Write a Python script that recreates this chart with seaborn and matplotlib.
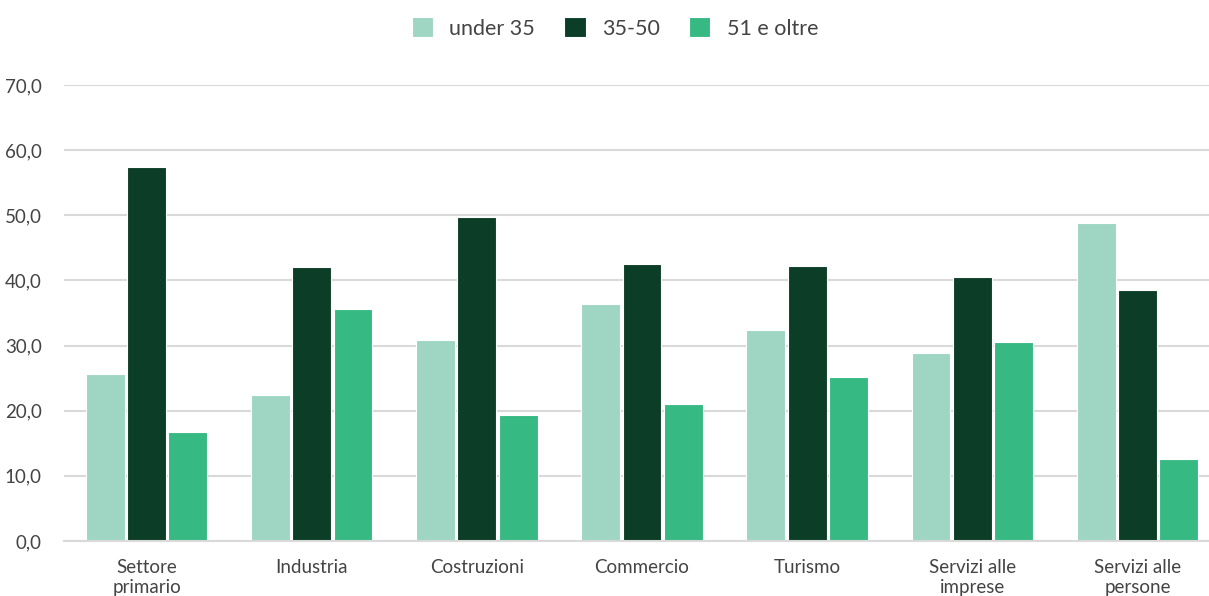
import pandas as pd
import numpy as np
import seaborn as sns
import matplotlib.pyplot as plt

# settori e fasce d'eta
settori = ['Settore\nprimario', 'Industria', 'Costruzioni', 'Commercio',
           'Turismo', 'Servizi alle\nimprese', 'Servizi alle\npersone']
fasce = ['under 35', '35-50', '51 e oltre']
under35 = [25.7, 22.4, 30.9, 36.4, 32.4, 28.9, 48.8]
da35a50 = [57.4, 42.1, 49.7, 42.5, 42.2, 40.5, 38.5]
oltre51 = [16.8, 35.6, 19.3, 21.0, 25.1, 30.6, 12.6]
colori = ['#9ed6c3', '#0b3d27', '#37b984']

df = pd.DataFrame({'settore': settori * 3,
                   'fascia': np.repeat(fasce, len(settori)),
                   'valore': under35 + da35a50 + oltre51})

sns.set_style('white')
plt.rcParams['font.family'] = ['Lato', 'DejaVu Sans']

fig = plt.figure(figsize=(12.09, 5.96), dpi=100)
ax = fig.add_axes([64/1209, 55/596, 1156/1209, 456/596])

sns.barplot(data=df, x='settore', y='valore', hue='fascia', palette=colori,
            saturation=1, width=0.75, gap=0.06, edgecolor='white',
            linewidth=0.8, ax=ax)

ax.set_ylim(0, 70)
ax.set_yticks(np.arange(0, 71, 10))
ax.set_yticklabels([f'{v:.1f}'.replace('.', ',') for v in np.arange(0, 71, 10)])
ax.yaxis.grid(True, color='#d9d9d9', linewidth=1.5)
ax.set_axisbelow(True)
for s in ['top', 'right', 'left']:
    ax.spines[s].set_visible(False)
ax.spines['bottom'].set_color('#d9d9d9')
ax.spines['bottom'].set_linewidth(1.5)
ax.tick_params(axis='both', length=0, colors='#444444', labelsize=13.5)
ax.tick_params(axis='x', pad=13)
ax.tick_params(axis='y', pad=16)
ax.set_xlabel('')
ax.set_ylabel('')

leg = ax.legend(loc='center', bbox_to_anchor=(0.4766, 1 + 57/456), ncol=3,
                frameon=False, fontsize=15.5, handlelength=1.0, handleheight=1.0,
                columnspacing=1.35, handletextpad=0.75)
for t in leg.get_texts():
    t.set_color('#444444')

fig.savefig('out.png', dpi=100)
